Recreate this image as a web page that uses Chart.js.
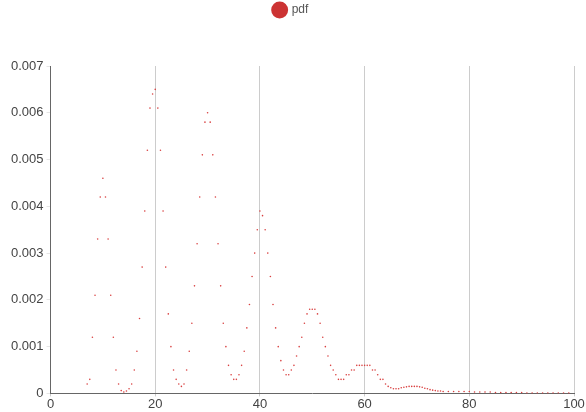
<!DOCTYPE html>
<html><head><meta charset="utf-8">
<script src="https://cdn.jsdelivr.net/npm/chart.js@4/dist/chart.umd.min.js"></script>
<style>html,body{margin:0;padding:0;background:#fff}#w{width:586px;height:412px}</style>
</head><body><div id="w"><canvas id="c"></canvas></div>
<script>
// x grid: 7..75 step 0.5, then 76..99 step 1
const xFine = [];
for (let i = 0; i <= 136; i++) xFine.push(7 + i * 0.5);
const xCoarse = [];
for (let i = 76; i <= 99; i++) xCoarse.push(i);
const xValues = xFine.concat(xCoarse);
const pdfValues = [
0.0002,0.0003,0.0012,0.0021,0.0033,0.0042,0.0046,0.0042,0.0033,0.0021,0.0012,0.0005,0.0002,0.00006,0.00003,
0.00005,0.0001,0.0002,0.0005,0.0009,0.0016,0.0027,0.0039,0.0052,0.0061,0.0064,0.0065,0.0061,0.0052,0.0039,0.0027,0.0017,0.0010,0.0005,0.0003,0.0002,0.00015,
0.0002,0.0005,0.0009,0.0015,0.0023,0.0032,0.0042,0.0051,0.0058,0.0060,0.0058,0.0051,0.0042,0.0032,0.0023,0.0015,0.0010,0.0006,0.0004,0.0003,0.0003,
0.0004,0.0006,0.0009,0.0014,0.0019,0.0025,0.0030,0.0035,0.0039,0.0038,0.0035,0.0030,0.0025,0.0019,0.0014,0.0010,0.0007,0.0005,0.0004,0.0004,
0.0005,0.0006,0.0008,0.0010,0.0012,0.0015,0.0017,0.0018,0.0018,0.0018,0.0017,0.0015,0.0012,0.0010,0.0008,0.0006,0.0005,0.0004,0.0003,0.0003,
0.0003,0.0004,0.0004,0.0005,0.0005,0.0006,0.0006,0.0006,0.0006,0.0006,0.0006,0.0005,0.0005,0.0004,0.0003,0.0003,0.0002,0.00015,0.00012,0.0001,
0.0001,0.0001,0.00012,0.00013,0.00014,0.00015,0.00015,0.00015,0.00015,0.00014,0.00013,0.00011,0.0001,0.00008,0.00007,0.00006,0.00005,0.00005,0.00004,
0.00004,0.00004,0.00004,0.00004,0.00004,0.00003,0.00003,0.00003,0.00003,0.00002,0.00002,0.00002,0.00002,0.00002,0.00002,0.00001,0.00001,0.00001,0.00001,0.00001,0.00001,0.00001,0.00001,0.00001
];
const points = xValues.map((x, i) => ({x: x, y: pdfValues[i]}));
const legendGap = {id:'legendGap', beforeInit(chart){const f=chart.legend.fit; chart.legend.fit=function(){f.bind(chart.legend)(); this.height+=40;};}};
new Chart(document.getElementById('c'), {
  type: 'scatter',
  data: {datasets: [{label: 'pdf', data: points, backgroundColor: '#d94040', borderColor: '#d94040', pointRadius: 0.8, pointHoverRadius: 0.8, borderWidth: 0}]},
  options: {
    responsive: true, maintainAspectRatio: false, animation: false,
    layout: {padding: {right: 12, bottom: 0, left: 8, top: -4}},
    plugins: {legend: {labels: {usePointStyle: true, pointStyle: 'circle', boxWidth: 16, boxHeight: 16, color: '#555', font: {size: 12, family: 'Liberation Sans'}, padding: 8, generateLabels(chart){return [{text:'pdf', fillStyle:'#cc3333', strokeStyle:'#cc3333', pointStyle:'circle', lineWidth:0, fontColor:'#555'}];}}}, tooltip: {enabled: false}},
    scales: {
      x: {type: 'linear', min: 0, max: 100, ticks: {stepSize: 20, color: '#444', font: {size: 13, family: 'Liberation Sans'}, padding: 0},
          grid: {color: '#cccccc', drawTicks: true, tickLength: 3}, border: {color: '#666'}},
      y: {min: 0, max: 0.007, ticks: {stepSize: 0.001, color: '#444', font: {size: 13, family: 'Liberation Sans'}, callback: v => v === 0 ? '0' : v.toFixed(3)},
          grid: {display: true, drawOnChartArea: false, tickLength: 4}, border: {color: '#666'}}
    }
  },
  plugins: [legendGap]
});
</script></body></html>
